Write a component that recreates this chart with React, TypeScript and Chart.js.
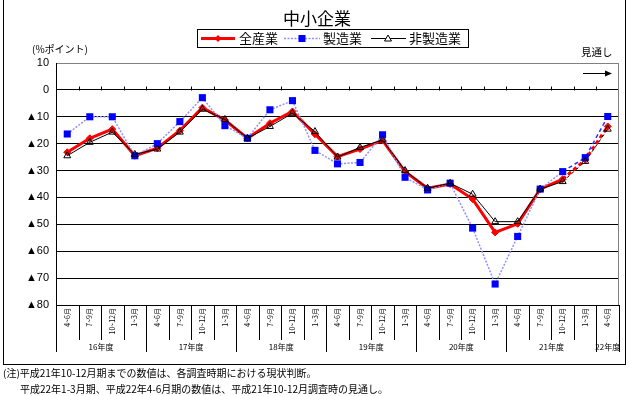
import React, { useEffect, useRef } from 'react';
import { Chart, registerables } from 'chart.js';

Chart.register(...registerables);

// ---- data ----
const categories = [
  '4~6月', '7~9月', '10~12月', '1~3月',
  '4~6月', '7~9月', '10~12月', '1~3月',
  '4~6月', '7~9月', '10~12月', '1~3月',
  '4~6月', '7~9月', '10~12月', '1~3月',
  '4~6月', '7~9月', '10~12月', '1~3月',
  '4~6月', '7~9月', '10~12月', '1~3月',
  '4~6月',
];
const fiscalYears = ['16年度', '17年度', '18年度', '19年度', '20年度', '21年度', '22年度'];
const fiscalYearSpans = [4, 4, 4, 4, 4, 4, 1];

const allIndustries = [
  -23.2, -18.0, -14.6, -24.5, -21.7, -15.1, -6.6, -11.2, -18.0, -12.4, -8.0, -16.5,
  -24.8, -22.0, -18.8, -30.4, -36.6, -35.0, -40.6, -53.0, -49.8, -36.9, -33.2, -26.0, -13.6,
];
const manufacturing = [
  -16.4, -10.0, -10.0, -24.5, -20.0, -11.8, -2.9, -13.3, -18.0, -7.4, -4.0, -22.5,
  -27.5, -27.0, -16.7, -32.5, -37.2, -34.7, -51.4, -72.2, -54.5, -36.9, -30.4, -25.2, -9.9,
];
const nonManufacturing = [
  -24.5, -19.5, -15.7, -24.0, -22.0, -15.7, -7.2, -11.0, -18.0, -13.6, -8.7, -15.5,
  -25.0, -21.4, -18.6, -30.0, -36.6, -34.7, -38.8, -49.0, -49.0, -36.9, -34.1, -26.6, -14.6,
];
const seriesNames = ['全産業', '製造業', '非製造業'];
const lastActualIndex = 22; // later points are outlooks (見通し)
const yMin = -80;
const yMax = 10;
const yStep = 10;

const JP = '"Noto Sans CJK JP", "Noto Sans", sans-serif';

const decorPlugin = {
  id: 'decor',
  afterDraw(chart: any) {
    const { ctx, chartArea } = chart;
    const xs = chart.scales.x;
    const ys = chart.scales.y;
    const p0 = xs.getPixelForValue(0);
    const p1 = xs.getPixelForValue(1);
    const step = p1 - p0;
    const bnd = (k: number) => p0 + (k - 0.5) * step;
    const bottom = chartArea.bottom;
    const yearBounds: number[] = [0];
    fiscalYearSpans.reduce((acc, s) => {
      const n = acc + s;
      yearBounds.push(n);
      return n;
    }, 0);
    ctx.save();
    ctx.lineWidth = 1;
    ctx.strokeStyle = '#000';
    for (let k = 0; k <= categories.length; k++) {
      const x = Math.round(bnd(k)) + 0.5;
      const long = yearBounds.includes(k);
      ctx.beginPath();
      ctx.moveTo(x, bottom);
      ctx.lineTo(x, bottom + (long ? 47 : 35));
      ctx.stroke();
    }
    const y0 = Math.round(ys.getPixelForValue(0)) + 0.5;
    for (let k = 1; k < categories.length; k++) {
      const x = Math.round(bnd(k)) + 0.5;
      ctx.beginPath();
      ctx.moveTo(x, y0 - 4);
      ctx.lineTo(x, y0);
      ctx.stroke();
    }
    ctx.strokeStyle = '#808080';
    ctx.beginPath();
    ctx.moveTo(Math.round(chartArea.right) - 0.5, chartArea.top);
    ctx.lineTo(Math.round(chartArea.right) - 0.5, bottom);
    ctx.stroke();
    ctx.fillStyle = '#000';
    ctx.font = `8px ${JP}`;
    ctx.textAlign = 'center';
    ctx.textBaseline = 'middle';
    for (let j = 0; j < fiscalYears.length; j++) {
      const cx = (bnd(yearBounds[j]) + bnd(yearBounds[j + 1])) / 2;
      ctx.fillText(fiscalYears[j], cx, bottom + 42);
    }
    ctx.restore();
  },
};

const forecastDash = (dash: number[]) => (c: any) =>
  c.p1DataIndex > lastActualIndex ? dash : undefined;
const forecastColor = (base: string, fc: string) => (c: any) =>
  c.p1DataIndex > lastActualIndex ? fc : base;

export default function App() {
  const ref = useRef<HTMLCanvasElement>(null);
  useEffect(() => {
    if (!ref.current) return;
    const chart = new Chart(ref.current, {
      type: 'line',
      data: {
        labels: categories,
        datasets: [
          {
            label: seriesNames[0],
            data: allIndustries,
            borderColor: '#ff0000',
            backgroundColor: '#ff0000',
            borderWidth: 3,
            pointStyle: 'rectRot',
            pointRadius: 3.5,
            pointBorderWidth: 1,
            pointBorderColor: '#ff0000',
            pointBackgroundColor: '#ff0000',
            order: 3,
            segment: { borderDash: forecastDash([4, 3]) },
          },
          {
            label: seriesNames[1],
            data: manufacturing,
            borderColor: '#9090ff',
            backgroundColor: '#0000ff',
            borderWidth: 1.5,
            borderDash: [2, 1.5],
            pointStyle: 'rect',
            pointRadius: 5,
            pointBorderWidth: 0,
            pointBackgroundColor: '#0000ff',
            pointBorderColor: '#0000ff',
            order: 2,
            segment: {
              borderDash: forecastDash([4, 3]),
              borderColor: forecastColor('#9090ff', '#3030ff'),
            },
          },
          {
            label: seriesNames[2],
            data: nonManufacturing,
            borderColor: '#000000',
            backgroundColor: 'rgba(0,0,0,0)',
            borderWidth: 1,
            pointStyle: 'triangle',
            pointRadius: 4,
            pointBorderWidth: 1,
            pointBorderColor: '#000',
            pointBackgroundColor: 'rgba(0,0,0,0)',
            order: 1,
            segment: { borderDash: forecastDash([3, 3]) },
          },
        ],
      },
      options: {
        animation: false,
        responsive: false,
        devicePixelRatio: 1,
        layout: { padding: { left: 0, top: 63, right: 11, bottom: 41 } },
        plugins: {
          legend: { display: false },
          title: { display: false },
          tooltip: { enabled: false },
        },
        scales: {
          x: {
            type: 'category',
            offset: true,
            grid: { display: false, drawTicks: false },
            border: { display: false },
            ticks: {
              autoSkip: false,
              minRotation: 90,
              maxRotation: 90,
              padding: 3,
              color: '#000',
              font: { size: 7, family: JP },
            },
            afterFit: (s: any) => {
              s.height = 50;
            },
          },
          y: {
            min: yMin,
            max: yMax,
            ticks: {
              stepSize: yStep,
              padding: 7,
              color: '#000',
              font: { size: 11, family: '"Liberation Sans", "DejaVu Sans", sans-serif' },
              callback: (v: any) => (v < 0 ? '▲' + -v : String(v)),
            },
            grid: {
              drawTicks: false,
              color: (c: any) => (c.tick && c.tick.value === yMax ? '#808080' : '#000'),
              lineWidth: 1,
            },
            border: { display: true, color: '#000', width: 1 },
            afterFit: (s: any) => {
              s.width = 56;
            },
          },
        },
      },
      plugins: [decorPlugin],
    } as any);
    return () => chart.destroy();
  }, []);

  const abs = (o: any) => ({ position: 'absolute', ...o }) as React.CSSProperties;
  const txt = (left: number, cy: number, size: number, extra: any = {}) =>
    abs({
      left,
      top: cy - size * 0.75,
      height: size * 1.5,
      lineHeight: `${size * 1.5}px`,
      fontSize: size,
      fontFamily: JP,
      color: '#000',
      whiteSpace: 'nowrap',
      ...extra,
    });

  return (
    <div style={abs({ left: 0, top: 0, width: 630, height: 396, background: '#fff', overflow: 'hidden' })}>
      <canvas ref={ref} width={630} height={396} style={abs({ left: 0, top: 0, width: 630, height: 396 })} />
      {/* outer frame */}
      <div style={abs({ left: 3, top: -2, width: 623, height: 367, border: '1px solid #000', boxSizing: 'border-box' })} />
      {/* title */}
      <div style={txt(0, 18, 17, { width: 634, textAlign: 'center' })}>中小企業</div>
      {/* legend */}
      <div style={abs({ left: 197, top: 29, width: 272, height: 19, border: '1px solid #000', boxSizing: 'border-box' })} />
      <svg style={abs({ left: 197, top: 29 })} width={272} height={19}>
        <line x1={4} y1={9.5} x2={38} y2={9.5} stroke="#ff0000" strokeWidth={3} />
        <polygon points="21,6 24.5,9.5 21,13 17.5,9.5" fill="#ff0000" />
        <line x1={87} y1={9.5} x2={123} y2={9.5} stroke="#9090ff" strokeWidth={1.5} strokeDasharray="2,1.5" />
        <rect x={101.5} y={6} width={7} height={7} fill="#0000ff" />
        <line x1={174} y1={9.5} x2={209} y2={9.5} stroke="#000" strokeWidth={1} />
        <polygon points="191,6 194.5,12 187.5,12" fill="#fff" stroke="#000" strokeWidth={1} />
      </svg>
      <div style={txt(239, 38, 13)}>{seriesNames[0]}</div>
      <div style={txt(323, 38, 13)}>{seriesNames[1]}</div>
      <div style={txt(409, 38, 13)}>{seriesNames[2]}</div>
      {/* unit */}
      <div style={txt(32, 48, 10)}>(%ポイント)</div>
      {/* outlook */}
      <div style={txt(581, 52, 10.5)}>見通し</div>
      <svg style={abs({ left: 578, top: 66 })} width={40} height={14}>
        <line x1={5} y1={7.5} x2={29} y2={7.5} stroke="#000" strokeWidth={1} />
        <polygon points="27,4.5 34,7.5 27,10.5" fill="#000" />
      </svg>
      {/* notes */}
      <div style={txt(3, 372, 10)}>(注)平成21年10-12月期までの数値は、各調査時期における現状判断。</div>
      <div style={txt(20, 388, 10)}>平成22年1-3月期、平成22年4-6月期の数値は、平成21年10-12月調査時の見通し。</div>
    </div>
  );
}
